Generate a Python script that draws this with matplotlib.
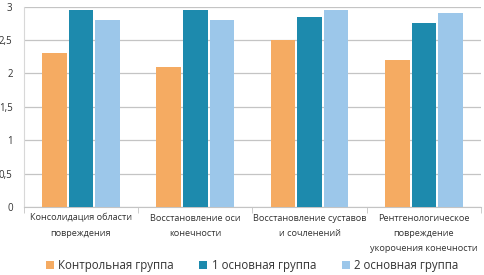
import matplotlib
matplotlib.use("Agg")
import matplotlib.pyplot as plt
import numpy as np

categories = [
    "Консолидация области\nповреждения",
    "Восстановление оси\nконечности",
    "Восстановление суставов\nи сочленений",
    "Рентгенологическое\nповреждение\nукорочения конечности",
]
series_names = ["Контрольная группа", "1 основная группа", "2 основная группа"]
control = [2.3, 2.1, 2.5, 2.2]
main1 = [2.95, 2.95, 2.85, 2.75]
main2 = [2.8, 2.8, 2.95, 2.9]
colors = ["#F5AB62", "#1D8AAD", "#9CC7EA"]

plt.rcParams["font.family"] = "Open Sans"

fig = plt.figure(figsize=(4.85, 2.75), dpi=100)
ax = fig.add_axes([0.049, 0.247, 0.943, 0.729])

x = np.arange(len(categories))
step = 0.232
width = 0.215
for i, (vals, name) in enumerate(zip([control, main1, main2], series_names)):
    ax.bar(x + (i - 1) * step, vals, width, color=colors[i], label=name, zorder=3)

ax.set_xlim(-0.5, len(categories) - 0.5)
ax.set_ylim(0, 3)
ax.set_yticks(np.arange(0, 3.01, 0.5))
ax.set_yticklabels(["0", "0,5", "1", "1,5", "2", "2,5", "3"], fontsize=7, color="#333333")
ax.yaxis.grid(True, color="#c4c4c4", linewidth=0.9, zorder=0)
ax.tick_params(axis="y", length=0, pad=8)

# category labels: one centred text per line, so every line is centred
ax.set_xticks(x)
ax.set_xticklabels([""] * len(categories))
ax.tick_params(axis="x", length=0)
for xi, cat in zip(x, categories):
    for k, line in enumerate(cat.split("\n")):
        ax.annotate(line, xy=(xi, 0), xycoords=("data", "axes fraction"),
                    xytext=(0, -11 - 15 * k), textcoords="offset pixels",
                    ha="center", va="center", fontsize=6.6, color="#333333")
ax.set_xticks(np.arange(-0.5, len(categories), 1), minor=True)
ax.tick_params(axis="x", which="minor", length=4, color="#c4c4c4")

for side in ["top", "right"]:
    ax.spines[side].set_visible(False)
ax.spines["left"].set_color("#d8d8d8")
ax.spines["bottom"].set_color("#c4c4c4")

fig.legend(loc="center", bbox_to_anchor=(0.52, 0.036), ncol=3, frameon=False,
           fontsize=8.3, handlelength=0.7, handleheight=0.7, handletextpad=0.4,
           columnspacing=2.2, labelcolor="#333333")

fig.savefig("out.png", dpi=100)
